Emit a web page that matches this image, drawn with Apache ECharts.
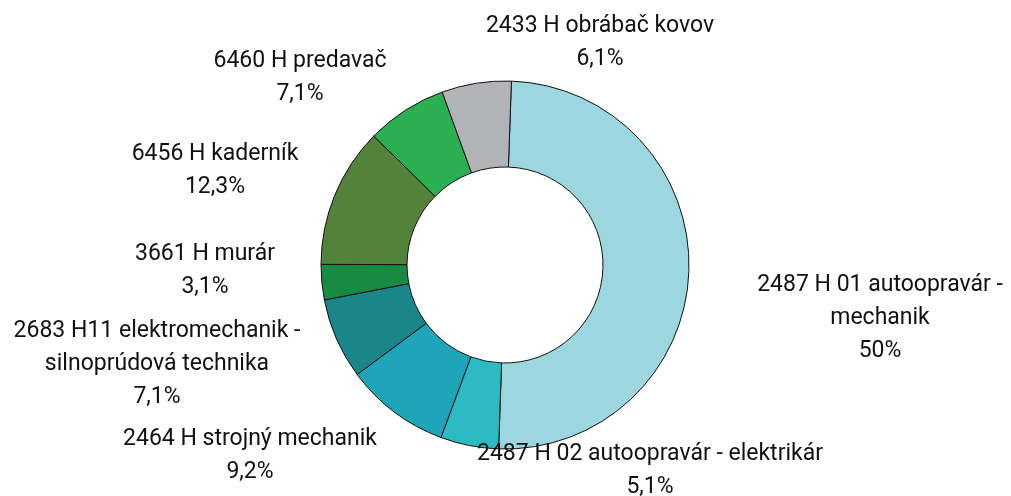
<!DOCTYPE html>
<html>
<head>
<meta charset="utf-8">
<script src="https://cdn.jsdelivr.net/npm/echarts@6/dist/echarts.min.js"></script>
<style>
  html, body { margin: 0; padding: 0; background: #fff; }
  #chart { width: 1011px; height: 496px; }
</style>
</head>
<body>
<div id="chart"></div>
<script>
// odbory a ich podiel v %
const names = [
  '2487 H 01 autoopravár -\nmechanik',
  '2487 H 02 autoopravár - elektrikár',
  '2464 H strojný mechanik',
  '2683 H11 elektromechanik -\nsilnoprúdová technika',
  '3661 H murár',
  '6456 H kaderník',
  '6460 H predavač',
  '2433 H obrábač kovov'
];
const values = [50, 5.1, 9.2, 7.1, 3.1, 12.3, 7.1, 6.1];
const colors = ['#9cd7df', '#2dbbc3', '#1ea6b8', '#1a8689', '#178a43', '#53823b', '#2ab050', '#b1b3b6'];

// stred popisu (px) pre kazdy vysek
const labelPos = [
  [880, 318], [650, 471], [250, 456], [157, 364],
  [205, 271], [215, 171], [300, 78], [600, 43]
];

const chart = echarts.init(document.getElementById('chart'));
const option = {
  animation: false,
  series: [
    {
      type: 'pie',
      center: [505, 265],
      radius: [98, 184],
      startAngle: 88,
      clockwise: true,
      data: names.map((n, i) => ({
        name: n,
        value: values[i],
        itemStyle: { color: colors[i] }
      })),
      itemStyle: { borderColor: '#111', borderWidth: 1 },
      label: {
        show: true,
        position: 'outside',
        formatter: p => p.name + '\n' + String(p.value).replace('.', ',') + '%',
        fontFamily: 'Roboto',
        fontSize: 23,
        lineHeight: 33,
        color: '#111',
        align: 'center',
        overflow: 'none'
      },
      labelLine: { show: false },
      labelLayout: function (params) {
        const pos = labelPos[params.dataIndex];
        return {
          x: pos[0],
          y: pos[1],
          align: 'center',
          verticalAlign: 'middle',
          hideOverlap: false
        };
      },
      emphasis: { disabled: true }
    }
  ]
};
chart.setOption(option);
</script>
</body>
</html>
